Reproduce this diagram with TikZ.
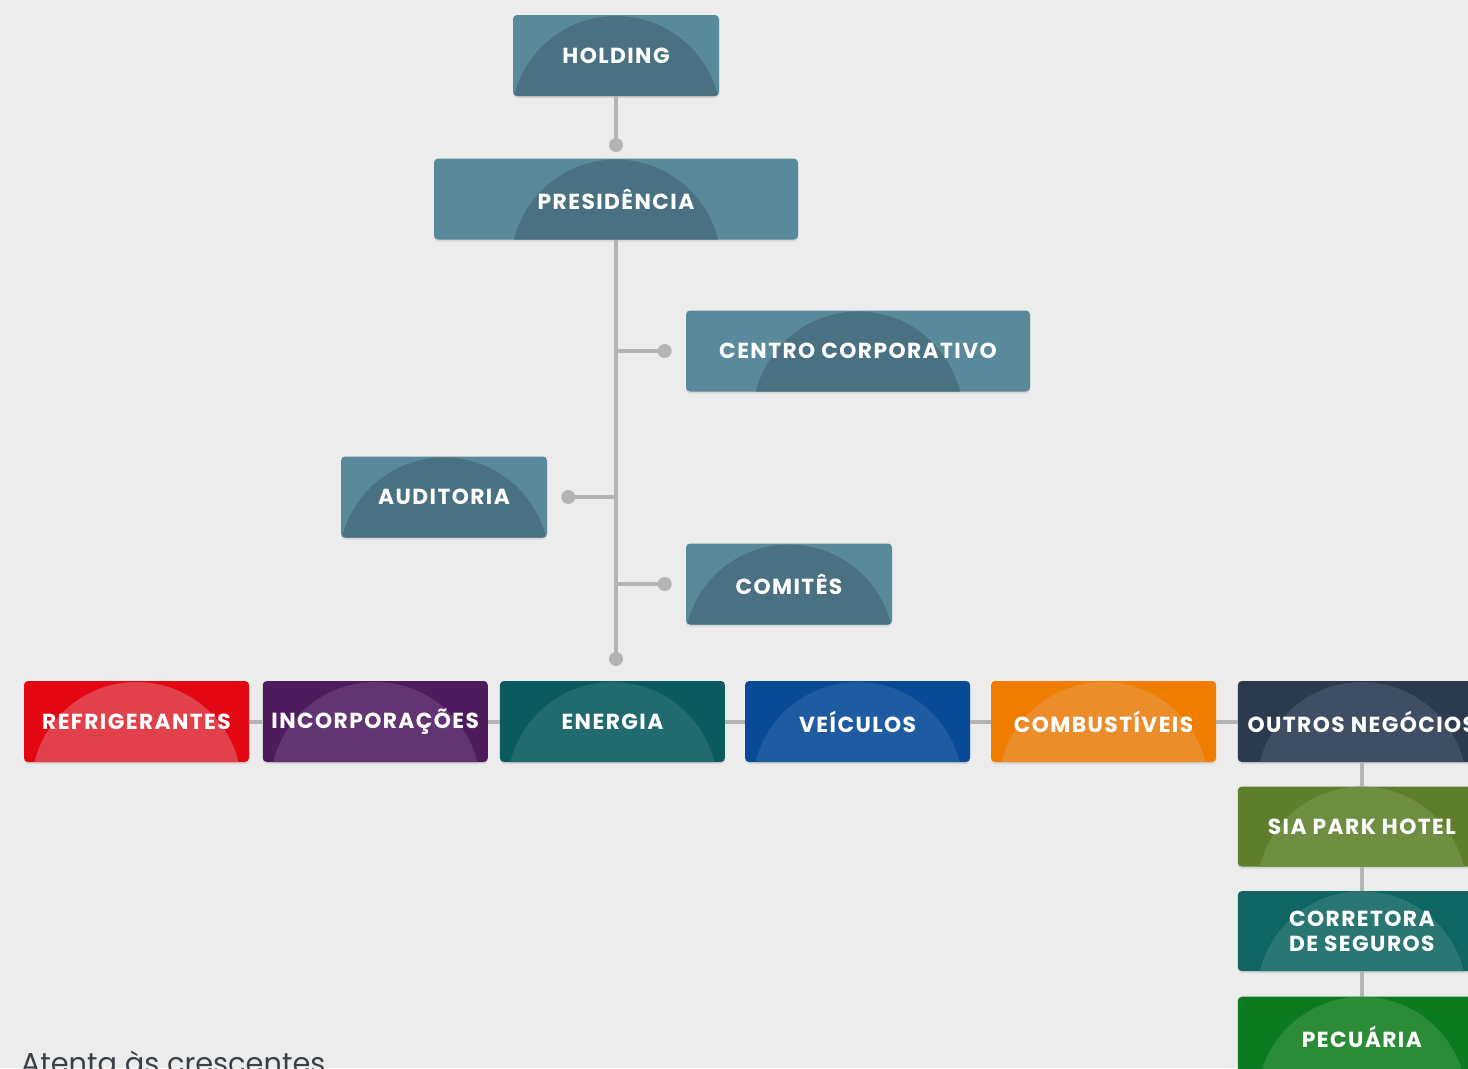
\documentclass[tikz,border=0pt]{standalone}
\usepackage{fontspec}
\setmainfont{Poppins}
\newfontfamily\boxfont[LetterSpace=6.5]{Poppins}
\usepackage{tikz}
\usetikzlibrary{positioning, shadows}

\definecolor{paper}{HTML}{ECECEC}
\definecolor{linkgray}{HTML}{B4B4B4}
\definecolor{slate}{HTML}{588A9B}
\definecolor{slatearc}{HTML}{4A7182}
\definecolor{refri}{HTML}{E30613}
\definecolor{refriarc}{HTML}{E2404A}
\definecolor{incorp}{HTML}{4F1B5F}
\definecolor{incorparc}{HTML}{613572}
\definecolor{energia}{HTML}{0B5A5E}
\definecolor{energiaarc}{HTML}{216B6F}
\definecolor{veiculos}{HTML}{084A96}
\definecolor{veiculosarc}{HTML}{1F5BA1}
\definecolor{combust}{HTML}{EF7D00}
\definecolor{combustarc}{HTML}{EC8D2C}
\definecolor{outros}{HTML}{2C3A4E}
\definecolor{outrosarc}{HTML}{3F4E62}
\definecolor{siapark}{HTML}{5F7E2C}
\definecolor{siaparkarc}{HTML}{708E42}
\definecolor{corretora}{HTML}{0E6561}
\definecolor{corretoraarc}{HTML}{2A7673}
\definecolor{pecuaria}{HTML}{0C7A1E}
\definecolor{pecuariaarc}{HTML}{2B8B37}
\definecolor{caption}{HTML}{3A4048}

\tikzset{
    orgbox/.style 2 args={rectangle, rounded corners=0.1cm, inner sep=0pt, align=center,
        minimum height=2.025cm, minimum width=5.15cm, fill=#1, text=white,
        font=\boxfont\bfseries\fontsize{15.5}{17.5}\selectfont,
        drop shadow={opacity=0.2, shadow xshift=0cm, shadow yshift=-0.05cm},
        path picture={\fill[#2] ([yshift=-0.625cm]path picture bounding box.south) circle (2.625cm);}},
    link/.style={draw=linkgray, line width=0.1cm},
    joint/.style={fill=linkgray, draw=none}
}

\begin{document}
\begin{tikzpicture}[x=1cm, y=-1cm]
    \fill [paper] (0,0) rectangle (36.7,26.7);
    \useasboundingbox (0,0) rectangle (36.7,26.7);

    \node [orgbox={slate}{slatearc}] (holding) at (15.4,1.3875) {HOLDING};
    \node [orgbox={slate}{slatearc}, minimum width=9.1cm, below=1.55cm of holding] (presidencia) {PRESIDÊNCIA};
    \node [orgbox={slate}{slatearc}, minimum width=8.6cm] (centro) at (21.45,8.775) {CENTRO CORPORATIVO};
    \node [orgbox={slate}{slatearc}] (auditoria) at (11.1,12.425) {AUDITORIA};
    \node [orgbox={slate}{slatearc}] (comites) at (19.725,14.6) {COMITÊS};

    \node [orgbox={refri}{refriarc}, minimum width=5.625cm] (refrigerantes) at (3.4125,18.0375) {REFRIGERANTES};
    \node [orgbox={incorp}{incorparc}, minimum width=5.625cm, right=0.33cm of refrigerantes] (incorporacoes) {INCORPORAÇÕES};
    \node [orgbox={energia}{energiaarc}, minimum width=5.625cm, right=0.29cm of incorporacoes] (energia) {ENERGIA};
    \node [orgbox={veiculos}{veiculosarc}, minimum width=5.625cm, right=0.49cm of energia] (veiculos) {VEÍCULOS};
    \node [orgbox={combust}{combustarc}, minimum width=5.625cm, right=0.51cm of veiculos] (combustiveis) {COMBUSTÍVEIS};
    \node [orgbox={outros}{outrosarc}, minimum width=6.2cm, right=0.53cm of combustiveis] (outrosnegocios) {OUTROS NEGÓCIOS};
    \node [orgbox={siapark}{siaparkarc}, minimum width=6.2cm, minimum height=2cm, below=0.6cm of outrosnegocios] (siapark) {SIA PARK HOTEL};
    \node [orgbox={corretora}{corretoraarc}, minimum width=6.2cm, minimum height=2cm, below=0.6cm of siapark] (corretora) {CORRETORA\\DE SEGUROS};
    \node [orgbox={pecuaria}{pecuariaarc}, minimum width=6.2cm, minimum height=2cm, below=0.625cm of corretora] (pecuaria) {PECUÁRIA};

    \node [anchor=base west, text=caption, font=\fontsize{20.5}{24}\selectfont] (atenta) at (0.4,26.83) {Atenta às crescentes};

    % tronco central
    \coordinate (dholding) at (15.4,3.625);
    \coordinate (dbase) at (15.4,16.475);
    \coordinate (dcentro) at ([xshift=-0.525cm]centro.west);
    \coordinate (dauditoria) at ([xshift=0.525cm]auditoria.east);
    \coordinate (dcomites) at ([xshift=-0.525cm]comites.west);

    \path [link] (holding) -- (dholding);
    \path [link] (presidencia) -- (dbase);
    \path [link] (presidencia.south |- dcentro) -- (dcentro);
    \path [link] (presidencia.south |- dauditoria) -- (dauditoria);
    \path [link] (presidencia.south |- dcomites) -- (dcomites);
    \foreach \d in {dholding, dbase, dcentro, dauditoria, dcomites}
        \fill [joint] (\d) circle (0.175cm);

    % linha das empresas
    \path [link] (refrigerantes) -- (incorporacoes);
    \path [link] (incorporacoes) -- (energia);
    \path [link] (energia) -- (veiculos);
    \path [link] (veiculos) -- (combustiveis);
    \path [link] (combustiveis) -- (outrosnegocios);
    \path [link] (outrosnegocios) -- (siapark);
    \path [link] (siapark) -- (corretora);
    \path [link] (corretora) -- (pecuaria);
\end{tikzpicture}
\end{document}
